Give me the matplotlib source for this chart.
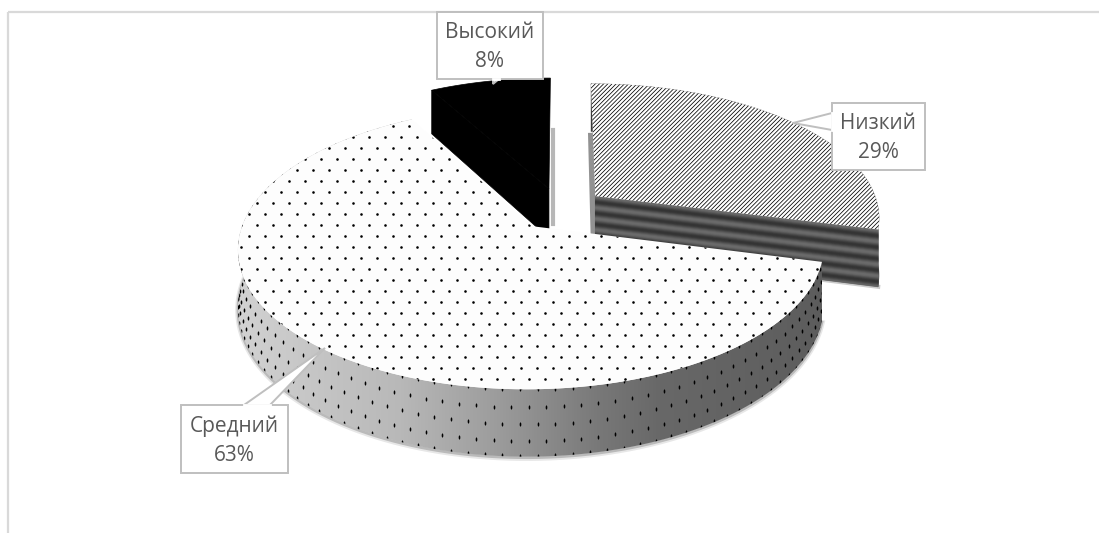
import numpy as np
import matplotlib
matplotlib.use("Agg")
import matplotlib.pyplot as plt
from matplotlib.colors import LinearSegmentedColormap
from matplotlib.patches import Polygon, Rectangle
from matplotlib.path import Path
from matplotlib.transforms import Affine2D

plt.rcParams['font.family'] = ['Open Sans', 'DejaVu Sans']
plt.rcParams['hatch.linewidth'] = 0.55

# Pie data, in drawing order clockwise from 12 o'clock
categories = ['Низкий', 'Средний', 'Высокий']
shares = [29, 63, 8]

# Geometry of the tilted pie, in pixels
CX, CY = 560, 209
R, RT = 284, 133
PERSP = 0.15
DEPTH = 56
EXPLODE = 0.16

fig = plt.figure(figsize=(10.99, 5.33), dpi=100)
ax = fig.add_axes([0, 0, 1, 1])
ax.set_xlim(0, 1099)
ax.set_ylim(533, 0)
ax.axis('off')


def project(x, y, z=0.0):
    w = 1 / (1 + PERSP * y)
    return CX + R * x * w, CY - RT * y * w + DEPTH * z * w


def rim(theta, off, z=0.0):
    x = off[0] + np.sin(theta)
    y = off[1] + np.cos(theta)
    return np.column_stack(project(x, y, z))


def add_patch_poly(pts, **kw):
    p = Polygon(pts, closed=True, **kw)
    ax.add_patch(p)
    return p


def top_outline(a0, a1, off, z=0.0):
    thetas = np.linspace(a0, a1, 200)
    apex = np.array(project(off[0], off[1], z)).reshape(1, 2)
    return np.vstack([apex, rim(thetas, off, z)])


edges = np.radians(np.cumsum([0] + shares) * 3.6)
slices = []
for i, name in enumerate(categories):
    mid = (edges[i] + edges[i + 1]) / 2
    off = (EXPLODE * np.sin(mid), EXPLODE * np.cos(mid))
    slices.append((name, edges[i], edges[i + 1], off))

# frame of the chart area
ax.plot([8, 8], [533, 12], color='#d9d9d9', lw=1.6, solid_capstyle='butt', zorder=0)
ax.plot([8, 1099], [12, 12], color='#d9d9d9', lw=1.6, solid_capstyle='butt', zorder=0)

# Высокий: solid black, at the back
name, a0, a1, off = slices[2]
soft = project(off[0], off[1], 0.65)
edge_top = project(off[0] + np.sin(a1), off[1] + np.cos(a1), 0)
ax.plot([edge_top[0] + 2.5, edge_top[0] + 2.5], [edge_top[1] + 52, soft[1]], color='#999999', lw=3, alpha=0.7, zorder=1)
left_edge = [project(off[0], off[1]), rim(a0, off)[0], rim(a0, off, 0.9)[0], project(off[0], off[1], 0.9)]
add_patch_poly(left_edge, fc='black', ec='black', lw=0.5, zorder=2)
add_patch_poly(top_outline(a0, a1, off), fc='black', ec='black', lw=0.5, zorder=2)

# Низкий: hatched top with striped cut face
name, a0, a1, off = slices[0]
thetas = np.linspace(a0, a1, 100)
wall = np.vstack([rim(thetas, off), rim(thetas[::-1], off, 1)])
add_patch_poly(wall, fc='#3a3a3a', ec='none', zorder=3)
apex = np.array([off[0], off[1]])
tip = apex + [np.sin(a1), np.cos(a1)]
back = np.array(project(off[0] + np.sin(a0), off[1] + np.cos(a0)))
ax.plot([back[0], back[0] + 3], [back[1] + 52, project(*apex, 1)[1]], color='#777777', lw=4, alpha=0.8, zorder=3)
ax.plot(*zip(project(*apex, 1), project(*tip, 1)), color='#999999', lw=3, alpha=0.5, zorder=3)
n_layers = 60
for k in range(n_layers):
    z0, z1 = k / n_layers, (k + 1) / n_layers
    shade = str(round(float(0.31 + 0.11 * np.cos(2 * np.pi * 5 * z0 - 0.3)), 3))
    quad = [project(*apex, z0), project(*tip, z0), project(*tip, z1), project(*apex, z1)]
    add_patch_poly(quad, fc=shade, ec=shade, lw=0.6, zorder=4)
add_patch_poly(top_outline(a0, a1, off), fc='white', ec='black', lw=0, hatch='////////', zorder=5)

# Средний: dotted top and shaded outer wall
name, a0, a1, off = slices[1]
thetas = np.linspace(a0, a1, 400)
wall = np.vstack([rim(thetas, off), rim(thetas[::-1], off, 1)])

# soft shadow under the wall
under = rim(thetas, off, 1)
ax.plot(under[:, 0], under[:, 1] + 1.5, color='#888888', lw=4, alpha=0.2, zorder=5.5)
ax.plot(under[:, 0], under[:, 1] + 1, color='#666666', lw=2, alpha=0.35, zorder=5.5)

wall_patch = add_patch_poly(wall, fc='none', ec='none', zorder=6)
wall_cmap = LinearSegmentedColormap.from_list('wall', [(0, '#d4d4d4'), (0.12, '#c8c8c8'), (0.29, '#b8b8b8'),
                                                      (0.45, '#9c9c9c'), (0.62, '#787878'), (0.72, '#686868'),
                                                      (1, '#5c5c5c')])
grad = ax.imshow(np.linspace(0, 1, 256).reshape(1, -1), cmap=wall_cmap, aspect='auto',
                 extent=[225, 830, 533, 0], zorder=6)
grad.set_clip_path(wall_patch)
ax.set_xlim(0, 1099)
ax.set_ylim(533, 0)

# small dots on the wall, stretched along the height
dash = Path.unit_circle().transformed(Affine2D().scale(0.4, 1.0))
wall_x, wall_y = [], []
for row, z in enumerate([0.0, 0.27, 0.52, 0.77, 0.99]):
    step = np.radians(2.95)
    th = np.arange(a0 + (row % 2) * step / 2, a1, step)
    pts = rim(th, off, z)
    wall_x.extend(pts[:, 0])
    wall_y.extend(pts[:, 1])
dots_wall = ax.scatter(wall_x, wall_y, s=9, marker=dash, c='black', linewidths=0, zorder=7)
dots_wall.set_clip_path(wall_patch)

top_patch = add_patch_poly(top_outline(a0, a1, off), fc='#fdfdfd', ec='none', zorder=8)
gx, gy = np.meshgrid(np.arange(225, 840, 16.0), np.arange(115, 400, 11.0))
gx[1::2] += 8
dots_top = ax.scatter(gx.ravel(), gy.ravel(), s=3.5, c='black', linewidths=0, zorder=9)
dots_top.set_clip_path(top_patch)

# data labels with callouts
boxes = {
    'Низкий': ([832, 103, 93, 67], [(832, 113), (793, 123), (832, 130)]),
    'Средний': ([181, 405, 107, 68], [(244, 405), (325, 348), (270, 405)]),
    'Высокий': ([437, 12, 106, 67], [(493, 79), (493, 84), (499, 79)]),
}
for name, share in zip(categories, shares):
    (bx, by, bw, bh), ptr = boxes[name]
    ax.add_patch(Rectangle((bx, by), bw, bh, fc='white', ec='#bfbfbf', lw=1.4, zorder=10))
    add_patch_poly(ptr, fc='white', ec='#bfbfbf', lw=1.4, zorder=10)
    ax.plot([ptr[0][0], ptr[2][0]], [ptr[0][1], ptr[2][1]], color='white', lw=2, zorder=11)
    ax.text(bx + bw / 2, by + bh / 2 + 1.5, f'{name}\n{share}%', ha='center', va='center',
            color='#595959', fontsize=15, linespacing=1.5, zorder=12)

fig.savefig('out.png', dpi=100)
